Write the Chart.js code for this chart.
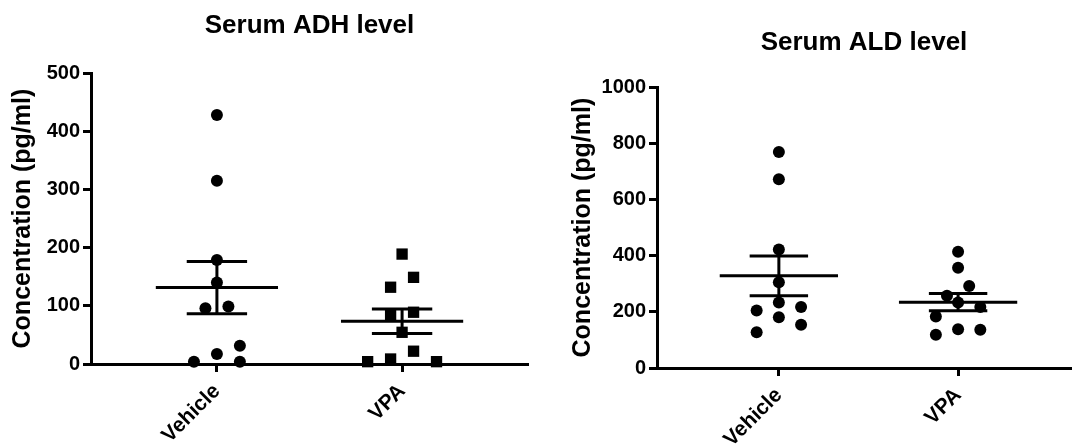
<!DOCTYPE html>
<html>
<head>
<meta charset="utf-8">
<script src="https://cdn.jsdelivr.net/npm/chart.js@4/dist/chart.umd.min.js"></script>
<style>
html,body{margin:0;padding:0;background:#fff;}
#wrap{position:relative;width:1077px;height:445px;}
.panel{position:absolute;top:0;height:445px;}
#adhBox{left:0;width:545px;}
#aldBox{left:560px;width:517px;}
</style>
</head>
<body>
<div id="wrap">
  <div class="panel" id="adhBox"><canvas id="adhChart"></canvas></div>
  <div class="panel" id="aldBox"><canvas id="aldChart"></canvas></div>
</div>
<script>
const groups = ['Vehicle', 'VPA'];

// Serum ADH, pg/ml
const adhVehicle = [428, 315, 179, 140, 99, 96, 31.5, 17, 4, 4];
const adhVPA = [189, 149, 132, 89, 84, 54.5, 22, 8.6, 4, 4];
const adhTicks = [0, 100, 200, 300, 400, 500];

// Serum ALD, pg/ml
const aldVehicle = [769, 672, 422, 305, 233, 217, 205, 181, 154, 127];
const aldVPA = [414, 357, 292, 257, 233, 217, 183, 138, 136, 118];
const aldTicks = [0, 200, 400, 600, 800, 1000];

Chart.defaults.font.family = "'Liberation Sans', Arial, sans-serif";
Chart.defaults.color = '#000';

function mean(a){ return a.reduce((s,v)=>s+v,0)/a.length; }
function sem(a){
  const m = mean(a);
  const sd = Math.sqrt(a.reduce((s,v)=>s+(v-m)*(v-m),0)/(a.length-1));
  return sd/Math.sqrt(a.length);
}

// dot-plot layout: values close together share a row and spread sideways
function swarm(values, center, yRange){
  const rowH = 0.0545*yRange, clash = 0.042*yRange, step = 0.124;
  const sorted = values.slice().sort((a,b)=>a-b);
  const rows = [];
  sorted.forEach(v=>{
    const row = rows[rows.length-1];
    if(row && v-row[0] < rowH) row.push(v); else rows.push([v]);
  });
  const placed = [];
  rows.forEach(row=>{
    const n = row.length, slots = [];
    for(let i=0;i<n;i++) slots.push(i-(n-1)/2);
    slots.sort((a,b)=>Math.abs(a)-Math.abs(b) || b-a);
    row.slice().sort((a,b)=>b-a).forEach((v,i)=>{
      let s = slots[i], k = 0;
      while(placed.some(p=>Math.abs(p.s-s)<0.5 && Math.abs(p.y-v)<clash)){
        k++;
        s = slots[i] + (k%2 ? 1 : -1)*Math.ceil(k/2);
      }
      placed.push({s, y:v});
    });
  });
  return placed.map(p=>({x:center+p.s*step, y:p.y}));
}

// mean line with SEM whiskers, one broken line per group
function meanSem(values, center){
  const m = mean(values), e = sem(values), w = 0.33, cw = 0.163;
  return [
    {x:center-w, y:m}, {x:center+w, y:m}, {x:center, y:null},
    {x:center-cw, y:m+e}, {x:center+cw, y:m+e}, {x:center, y:null},
    {x:center-cw, y:m-e}, {x:center+cw, y:m-e}, {x:center, y:null},
    {x:center, y:m+e}, {x:center, y:m-e}
  ];
}

function dotPlot(id, cfg){
  const range = cfg.ticks[cfg.ticks.length-1] - cfg.ticks[0];
  const pts = (vals, c, style, r) => ({
    type:'scatter', data:swarm(vals, c, range), pointStyle:style, pointRadius:r,
    pointBackgroundColor:'#000', pointBorderWidth:0, clip:false
  });
  const bars = (vals, c) => ({
    type:'line', data:meanSem(vals, c), borderColor:'#000', borderWidth:3,
    pointRadius:0, spanGaps:false, tension:0, clip:false
  });
  return new Chart(document.getElementById(id), {
    data:{datasets:[
      bars(cfg.a, 1), bars(cfg.b, 2),
      pts(cfg.a, 1, 'circle', 6), pts(cfg.b, 2, cfg.bStyle, cfg.bStyle==='rect' ? 8 : 6)
    ]},
    options:{
      responsive:true, maintainAspectRatio:false, animation:false,
      layout:{padding:{left:0, right:cfg.padRight, top:0, bottom:0}},
      plugins:{
        legend:{display:false}, tooltip:{enabled:false},
        title:{display:true, text:cfg.title, fullSize:false, color:'#000',
          font:{size:26, weight:'bold'}, padding:cfg.titlePad}
      },
      scales:{
        x:{
          type:'linear', min:0.32, max:cfg.xMax,
          afterBuildTicks: s => { s.ticks = groups.map((g,i)=>({value:i+1})); },
          afterFit: s => { s.height = cfg.xHeight; },
          ticks:{callback:v=>groups[v-1], autoSkip:false, minRotation:45, maxRotation:45,
            padding:7, color:'#000', font:{size:21, weight:'bold'}},
          grid:{drawOnChartArea:false, drawTicks:true, tickLength:8, tickWidth:3, tickColor:'#000'},
          border:{display:true, color:'#000', width:3}
        },
        y:{
          min:cfg.ticks[0], max:cfg.ticks[cfg.ticks.length-1],
          afterBuildTicks: s => { s.ticks = cfg.ticks.map(v=>({value:v})); },
          afterFit: s => { s.width = cfg.yWidth; },
          ticks:{callback:v=>String(v), padding:3, color:'#000', font:{size:20, weight:'bold'}},
          grid:{drawOnChartArea:false, drawTicks:true, tickLength:8, tickWidth:3, tickColor:'#000'},
          border:{display:true, color:'#000', width:3},
          title:{display:true, text:'Concentration (pg/ml)', color:'#000',
            font:{size:25, weight:'bold'}, padding:{top:8, bottom:0}}
        }
      }
    }
  });
}

dotPlot('adhChart', {
  title:'Serum ADH level', a:adhVehicle, b:adhVPA, bStyle:'rect', ticks:adhTicks,
  xMax:2.68, yWidth:91, xHeight:81, padRight:17, titlePad:{top:10, bottom:32}
});
dotPlot('aldChart', {
  title:'Serum ALD level', a:aldVehicle, b:aldVPA, bStyle:'circle', ticks:aldTicks,
  xMax:2.63, yWidth:97, xHeight:77, padRight:1, titlePad:{top:27, bottom:29}
});
</script>
</body>
</html>
